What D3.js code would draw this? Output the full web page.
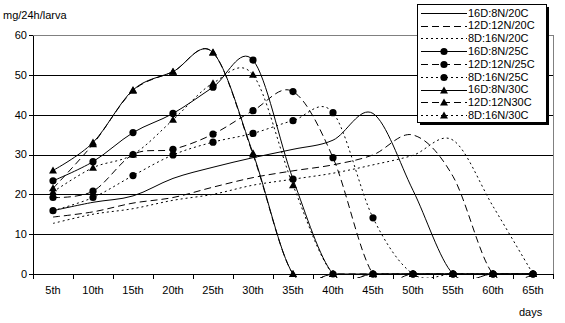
<!DOCTYPE html>
<html>
<head>
<meta charset="utf-8">
<script src="https://cdn.jsdelivr.net/npm/d3@7"></script>
<style>
  html, body { margin: 0; padding: 0; background: #fff; }
  svg { display: block; font-family: "Liberation Sans", Arial, sans-serif; }
</style>
</head>
<body>
<svg id="chart" width="565" height="323"></svg>
<script>
// Sampling days and daily consumption (mg/24h/larva) per photoperiod / temperature
const categories = ["5th","10th","15th","20th","25th","30th","35th","40th","45th","50th","55th","60th","65th"];
const yTicks = [0, 10, 20, 30, 40, 50, 60];

const seriesNames = ["16D:8N/20C","12D:12N/20C","8D:16N/20C",
                     "16D:8N/25C","12D:12N/25C","8D:16N/25C",
                     "16D:8N/30C","12D:12N30C","8D:16N/30C"];

const d16_20 = [15.9, 18.0, 19.6, 24.0, 26.8, 29.2, 31.3, 33.6, 40.3, 21.0, 0, 0, 0];
const d12_20 = [14.3, 15.6, 17.8, 19.2, 21.8, 24.2, 25.9, 27.4, 29.9, 34.9, 24.5, 0, 0];
const d8_20  = [12.7, 15.0, 16.4, 18.5, 20.0, 22.3, 23.8, 25.3, 27.4, 29.8, 33.6, 17.0, 0];
const d16_25 = [23.4, 28.2, 35.5, 40.3, 46.9, 53.7, 23.8, 0, 0, 0, 0, 0, 0];
const d12_25 = [19.2, 20.8, 30.0, 31.3, 35.1, 41.0, 45.8, 29.2, 0, 0, 0, 0, 0];
const d8_25  = [15.9, 19.2, 24.7, 29.9, 33.1, 35.3, 38.5, 40.5, 14.1, 0, 0, 0, 0];
const d16_30 = [26.0, 33.0, 46.2, 50.8, 55.6, 30.3, 0, 0, 0, 0, 0, 0, 0];
const d12_30 = [21.5, 32.6, 46.0, 50.8, 55.6, 30.0, 0, 0, 0, 0, 0, 0, 0];
const d8_30  = [20.6, 26.7, 30.0, 38.7, 47.9, 50.0, 22.3, 0, 0, 0, 0, 0, 0];

const seriesValues = [d16_20, d12_20, d8_20, d16_25, d12_25, d8_25, d16_30, d12_30, d8_30];

// Line style per photoperiod, marker per temperature
const dashFor = ["none", "7,4", "2,3"];
const markerFor = [null, "circle", "triangle"];

const svg = d3.select("#chart");
const plot = { left: 33, right: 553, top: 35, bottom: 274 };

const x = d3.scaleBand().domain(categories).range([plot.left, plot.right]).paddingInner(0).paddingOuter(0);
const cx = c => x(c) + x.bandwidth() / 2;
const y = d3.scaleLinear().domain([0, 60]).range([plot.bottom, plot.top]);
const snap = v => Math.round(v) + 0.5;

// Horizontal gridlines
svg.append("g").selectAll("line")
  .data(yTicks.filter(t => t > 0 && t < 60))
  .join("line")
  .attr("x1", plot.left).attr("x2", plot.right)
  .attr("y1", d => snap(y(d))).attr("y2", d => snap(y(d)))
  .attr("stroke", "#000").attr("shape-rendering", "crispEdges");

// Plot-area border (top and right)
svg.append("path")
  .attr("d", `M${plot.left},${snap(y(60))}H${snap(plot.right)}V${snap(y(0))}`)
  .attr("fill", "none").attr("stroke", "#808080").attr("shape-rendering", "crispEdges");

// Axes
const axes = svg.append("g").attr("stroke", "#000").attr("shape-rendering", "crispEdges");
axes.append("line").attr("x1", snap(plot.left)).attr("x2", snap(plot.left))
  .attr("y1", snap(y(60))).attr("y2", snap(y(0)));
axes.append("line").attr("x1", plot.left).attr("x2", plot.right + 1)
  .attr("y1", snap(y(0))).attr("y2", snap(y(0)));
axes.selectAll(".yt").data(yTicks).join("line").attr("class", "yt")
  .attr("x1", plot.left - 4).attr("x2", plot.left)
  .attr("y1", d => snap(y(d))).attr("y2", d => snap(y(d)));
const edges = categories.map(c => x(c)).concat([plot.right]);
axes.selectAll(".xt").data(edges).join("line").attr("class", "xt")
  .attr("x1", d => snap(d)).attr("x2", d => snap(d))
  .attr("y1", snap(y(0))).attr("y2", snap(y(0)) + 4);

// Tick labels
svg.append("g").selectAll("text").data(yTicks).join("text")
  .attr("x", 27).attr("y", d => y(d)).attr("dy", "0.35em")
  .attr("text-anchor", "end").attr("font-size", 11).text(d => d);
svg.append("g").selectAll("text").data(categories).join("text")
  .attr("x", d => cx(d)).attr("y", 294)
  .attr("text-anchor", "middle").attr("font-size", 11).text(d => d);

// Axis titles
svg.append("text").attr("x", 3).attr("y", 19).attr("font-size", 11).text("mg/24h/larva");
svg.append("text").attr("x", 519).attr("y", 316).attr("font-size", 11).text("days");

// Clip lines just below the axis so smoothing overshoot stays small
svg.append("clipPath").attr("id", "plotclip").append("rect")
  .attr("x", plot.left).attr("y", plot.top - 5)
  .attr("width", plot.right - plot.left).attr("height", plot.bottom - plot.top + 9);

const line = d3.line()
  .x((d, i) => cx(categories[i]))
  .y(d => y(d))
  .curve(d3.curveCardinal.tension(0));

const triPath = "M0,-4L4,3L-4,3Z";

function drawMarker(g, type, px, py) {
  if (type === "circle") {
    g.append("circle").attr("cx", px).attr("cy", py).attr("r", 3.6).attr("fill", "#000");
  } else if (type === "triangle") {
    g.append("path").attr("d", triPath).attr("transform", `translate(${px},${py})`).attr("fill", "#000");
  }
}

const lines = svg.append("g").attr("clip-path", "url(#plotclip)");
const marks = svg.append("g");

seriesValues.forEach((vals, s) => {
  const dash = dashFor[s % 3];
  const mk = markerFor[Math.floor(s / 3)];
  lines.append("path")
    .attr("d", line(vals))
    .attr("fill", "none").attr("stroke", "#000").attr("stroke-width", 1)
    .attr("stroke-dasharray", dash);
  if (mk) {
    vals.forEach((v, i) => drawMarker(marks, mk, cx(categories[i]), y(v)));
  }
});

// Legend
const lg = svg.append("g");
const box = { x: 417, y: 4, w: 129, h: 118 };
lg.append("rect").attr("x", box.x + 3).attr("y", box.y + 3).attr("width", box.w).attr("height", box.h)
  .attr("fill", "#000");
lg.append("rect").attr("x", box.x + 0.5).attr("y", box.y + 0.5).attr("width", box.w).attr("height", box.h)
  .attr("fill", "#fff").attr("stroke", "#000").attr("shape-rendering", "crispEdges");

seriesNames.forEach((name, s) => {
  const ry = 12.7 + 12.8 * s;
  const ly = Math.round(ry) + 0.5;
  lg.append("line").attr("x1", 421).attr("x2", 467).attr("y1", ly).attr("y2", ly)
    .attr("stroke", "#000").attr("stroke-dasharray", dashFor[s % 3]);
  drawMarker(lg, markerFor[Math.floor(s / 3)], 444, ly);
  lg.append("text").attr("x", 468).attr("y", ry).attr("dy", "0.35em")
    .attr("font-size", 11).text(name);
});
</script>
</body>
</html>
